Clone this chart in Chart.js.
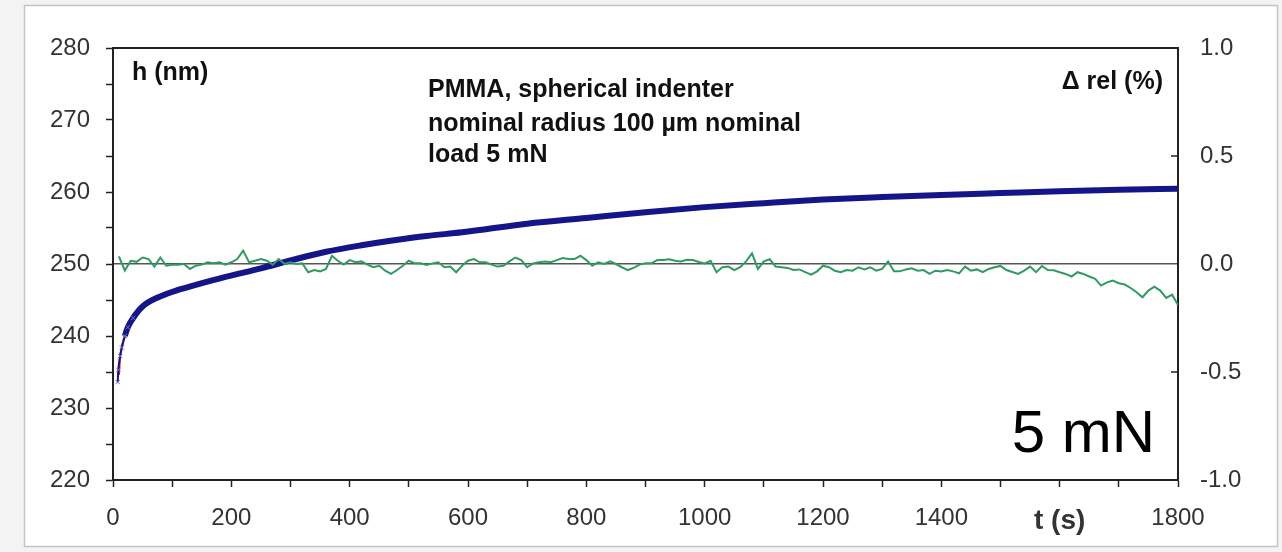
<!DOCTYPE html>
<html>
<head>
<meta charset="utf-8">
<title>PMMA creep 5 mN</title>
<script src="https://cdn.jsdelivr.net/npm/chart.js@4/dist/chart.umd.min.js"></script>
<style>
    html, body { margin: 0; padding: 0; background: #f3f3f3; }
    #wrap { width: 1282px; height: 552px; }
</style>
</head>
<body>
<div id="wrap"><canvas id="creepChart" width="1282" height="552"></canvas></div>
<script>
// depth h (nm) vs time t (s)
const depthTimes = [8, 9, 12, 15, 20, 25, 34, 50, 80, 110, 140, 190, 250, 305, 360, 420, 475, 530, 590, 700, 800, 900, 1000, 1100, 1200, 1300, 1400, 1500, 1600, 1700, 1800];
const depthValues = [233.6, 235.3, 237.2, 238.4, 240.0, 241.2, 242.5, 244.1, 245.5, 246.4, 247.1, 248.2, 249.4, 250.6, 251.7, 252.6, 253.3, 253.9, 254.4, 255.6, 256.4, 257.2, 257.9, 258.45, 258.95, 259.3, 259.6, 259.85, 260.1, 260.3, 260.45];

// fitted curve (red)
const fitTimes = [10, 12, 15, 20, 25, 34, 50, 80, 110, 140, 190, 250, 305, 360, 420, 475, 530, 590, 700, 800, 900, 1000, 1100, 1200, 1300, 1400, 1500, 1600, 1700, 1800];
const fitValues = [234.6, 237.0, 238.5, 240.0, 241.2, 242.5, 244.1, 245.5, 246.4, 247.1, 248.2, 249.4, 250.6, 251.7, 252.6, 253.3, 253.9, 254.4, 255.6, 256.4, 257.2, 257.9, 258.45, 258.95, 259.3, 259.6, 259.9, 260.2, 260.45, 260.65];

// relative deviation (%) every 10 s from t = 10 s
const relStart = 10;
const relStep = 10;
const relValues = [
    0.035, -0.030, 0.015, 0.010, 0.030, 0.023, -0.012, 0.030, -0.008, -0.003,
    -0.003, 0.000, -0.023, -0.008, -0.003, 0.008, 0.003, 0.008, -0.003, 0.008,
    0.023, 0.062, 0.008, 0.015, 0.023, 0.015, -0.003, 0.023, 0.000, 0.008,
    0.000, 0.003, -0.038, -0.028, -0.034, -0.023, 0.038, 0.015, -0.003, 0.018,
    0.008, 0.012, -0.003, -0.015, -0.008, -0.031, -0.046, -0.028, -0.008, 0.015,
    0.003, 0.003, -0.005, 0.003, 0.008, -0.015, -0.012, -0.038, -0.008, 0.015,
    0.023, 0.008, 0.008, -0.003, -0.012, -0.008, 0.012, 0.030, 0.018, -0.015,
    0.003, 0.008, 0.012, 0.008, 0.018, 0.028, 0.023, 0.023, 0.038, 0.018,
    -0.008, 0.008, 0.000, 0.012, 0.000, -0.015, -0.028, -0.018, -0.003, 0.003,
    0.003, 0.018, 0.018, 0.022, 0.015, 0.012, 0.020, 0.018, 0.009, 0.003,
    0.015, -0.038, -0.015, -0.012, -0.028, -0.015, 0.012, 0.049, -0.023, 0.012,
    0.022, -0.012, -0.015, -0.018, -0.028, -0.025, -0.038, -0.049, -0.034, -0.008,
    -0.015, -0.031, -0.038, -0.028, -0.031, -0.015, -0.025, -0.015, -0.031, -0.023,
    0.012, -0.034, -0.034, -0.025, -0.020, -0.031, -0.028, -0.046, -0.031, -0.035,
    -0.028, -0.034, -0.043, -0.012, -0.031, -0.025, -0.038, -0.023, -0.015, -0.009,
    -0.028, -0.037, -0.046, -0.031, -0.012, -0.038, -0.009, -0.028, -0.029, -0.038,
    -0.046, -0.058, -0.038, -0.046, -0.058, -0.069, -0.100, -0.085, -0.077, -0.089,
    -0.095, -0.111, -0.131, -0.154, -0.123, -0.105, -0.123, -0.157, -0.142, -0.190
];

const FONT = 'Liberation Sans, Arial, sans-serif';
const AXIS_COLOR = '#222';
const LABEL_COLOR = '#333';

function toPoints(xs, ys) {
    return xs.map((x, i) => ({ x: x, y: ys[i] }));
}

const relPoints = relValues.map((v, i) => ({ x: relStart + i * relStep, y: v }));

const framePlugin = {
    id: 'frame',
    beforeDraw(chart) {
        const ctx = chart.ctx;
        ctx.save();
        ctx.fillStyle = '#f3f3f3';
        ctx.fillRect(0, 0, chart.width, chart.height);
        ctx.fillStyle = '#ffffff';
        ctx.fillRect(24, 5, 1254, 542);
        ctx.strokeStyle = '#c4c4c4';
        ctx.lineWidth = 1.5;
        ctx.strokeRect(24.5, 5.5, 1253, 541);
        ctx.restore();
    },
    afterDraw(chart) {
        const ctx = chart.ctx;
        const area = chart.chartArea;
        const y1 = chart.scales.y1;
        ctx.save();
        ctx.strokeStyle = AXIS_COLOR;
        ctx.lineWidth = 2;
        ctx.beginPath();
        ctx.moveTo(area.left, area.top);
        ctx.lineTo(area.right, area.top);
        ctx.stroke();
        // small inward ticks on the right axis
        ctx.lineWidth = 1.5;
        [0.5, -0.5].forEach(v => {
            const py = y1.getPixelForValue(v);
            ctx.beginPath();
            ctx.moveTo(area.right - 7, py);
            ctx.lineTo(area.right, py);
            ctx.stroke();
        });

        ctx.fillStyle = '#111';
        ctx.textBaseline = 'alphabetic';
        ctx.font = 'bold 25px ' + FONT;
        ctx.textAlign = 'left';
        ctx.fillText('h (nm)', 132, 80);
        ctx.fillText('PMMA, spherical indenter', 428, 97);
        ctx.fillText('nominal radius 100 \u00b5m nominal', 428, 131);
        ctx.fillText('load 5 mN', 428, 162);
        ctx.textAlign = 'right';
        ctx.fillText('\u0394 rel (%)', 1163, 89);
        ctx.font = '60px ' + FONT;
        ctx.fillStyle = '#000';
        ctx.fillText('5 mN', 1155, 452);
        ctx.restore();
    }
};

const ctx = document.getElementById('creepChart').getContext('2d');
new Chart(ctx, {
    type: 'line',
    data: {
        datasets: [
            {
                label: 'rel',
                data: relPoints,
                yAxisID: 'y1',
                borderColor: '#2f9a63',
                borderWidth: 2,
                pointRadius: 0,
                tension: 0,
                order: 1
            },
            {
                label: 'h',
                data: toPoints(depthTimes, depthValues),
                yAxisID: 'y',
                borderColor: '#15158a',
                borderWidth: 6,
                cubicInterpolationMode: 'monotone',
                segment: {
                    borderWidth: c => c.p0.parsed.x < 20 ? 2 : 6
                },
                pointStyle: 'crossRot',
                pointRadius: c => (c.raw && c.raw.x < 40) ? 3 : 0,
                pointBorderColor: '#6a6ad8',
                pointBorderWidth: 1,
                order: 2
            },
            {
                label: 'fit',
                data: toPoints(fitTimes, fitValues),
                yAxisID: 'y',
                borderColor: '#e01818',
                borderWidth: 2,
                cubicInterpolationMode: 'monotone',
                pointRadius: 0,
                order: 3
            }
        ]
    },
    options: {
        responsive: false,
        animation: false,
        devicePixelRatio: 1,
        layout: { padding: { top: 48, left: 0, right: 0, bottom: 0 } },
        plugins: {
            legend: { display: false },
            tooltip: { enabled: false }
        },
        scales: {
            x: {
                type: 'linear',
                position: 'bottom',
                min: 0,
                max: 1800,
                afterFit: s => { s.height = 72; },
                border: { color: AXIS_COLOR, width: 2 },
                grid: { drawOnChartArea: false, tickLength: 7, tickColor: AXIS_COLOR, tickWidth: 1.5 },
                ticks: {
                    stepSize: 100,
                    autoSkip: false,
                    maxRotation: 0,
                    padding: 17,
                    color: LABEL_COLOR,
                    font: c => (c.tick && c.tick.value === 1600)
                        ? { family: FONT, size: 28, weight: 'bold' }
                        : { family: FONT, size: 24 },
                    callback: v => v % 200 !== 0 ? '' : (v === 1600 ? 't (s)' : String(v))
                }
            },
            y: {
                position: 'left',
                min: 220,
                max: 280,
                afterFit: s => { s.width = 113; },
                border: { color: AXIS_COLOR, width: 2 },
                grid: { drawOnChartArea: false, tickLength: 7, tickColor: AXIS_COLOR, tickWidth: 1.5 },
                ticks: {
                    stepSize: 5,
                    autoSkip: false,
                    padding: 16,
                    color: LABEL_COLOR,
                    font: { family: FONT, size: 24 },
                    callback: v => v % 10 === 0 ? String(v) : ''
                }
            },
            y1: {
                position: 'right',
                min: -1,
                max: 1,
                afterFit: s => { s.width = 104; },
                border: { color: AXIS_COLOR, width: 2 },
                grid: {
                    drawOnChartArea: true,
                    drawTicks: false,
                    lineWidth: 1.5,
                    color: c => (c.tick && Math.abs(c.tick.value) < 1e-9) ? '#555' : 'rgba(0,0,0,0)'
                },
                ticks: {
                    stepSize: 0.5,
                    padding: 22,
                    color: LABEL_COLOR,
                    font: { family: FONT, size: 24 },
                    callback: v => Number(v).toFixed(1)
                }
            }
        }
    },
    plugins: [framePlugin]
});
</script>
</body>
</html>
